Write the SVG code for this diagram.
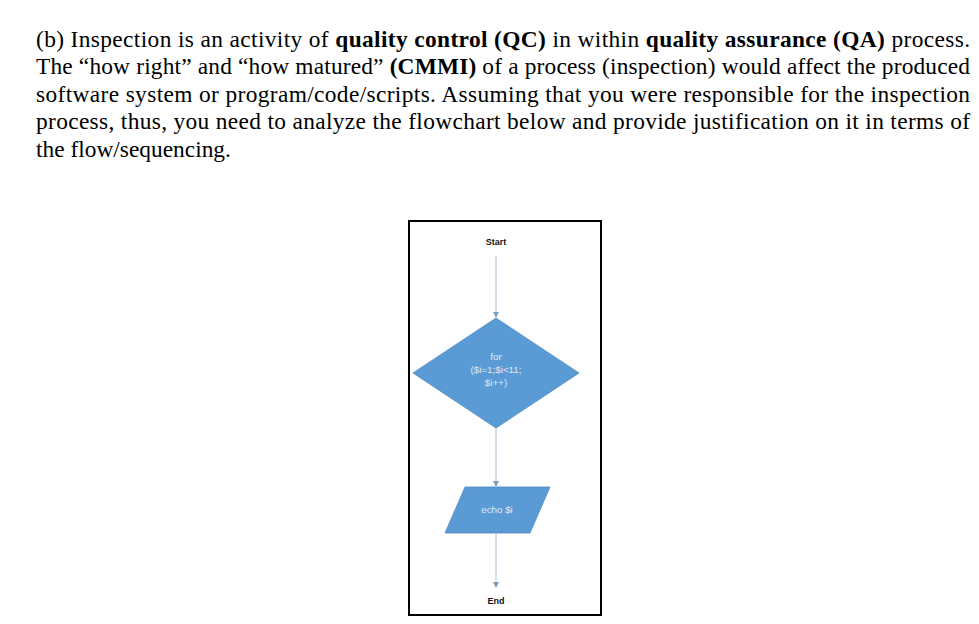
<svg xmlns="http://www.w3.org/2000/svg" width="979" height="624" viewBox="0 0 979 624">
<style>
.q{font-family:"Liberation Sans","Times New Roman",serif;font-size:23.4px;fill:#000}
.q{font-family:"Liberation Serif","Times New Roman",serif}
.b{font-weight:bold}
.lbl{font-family:"Liberation Sans",Arial,sans-serif;font-size:9px;font-weight:bold;fill:#111;text-anchor:middle}
.wl{font-family:"Liberation Sans",Arial,sans-serif;font-size:9.8px;fill:#dfeaf6;text-anchor:middle}
.shape{fill:#5b9bd5;stroke:#4f8cc4;stroke-width:0.8}
.conn{stroke:#a9bed3;stroke-width:1;fill:none}
</style>
<defs>
<marker id="ah" markerWidth="6" markerHeight="6" refX="5" refY="3" orient="auto" markerUnits="userSpaceOnUse">
<path d="M0,0 L6,3 L0,6 z" fill="#7f9fbf"/>
</marker>
</defs>
<rect width="979" height="624" fill="#fff"/>
<g id="question">
<text class="q" x="36" y="47" textLength="934" lengthAdjust="spacing">(b) Inspection is an activity of <tspan class="b">quality control (QC)</tspan> in within <tspan class="b">quality assurance (QA)</tspan> process.</text>
<text class="q" x="36" y="74.3" textLength="934" lengthAdjust="spacing">The “how right” and “how matured” <tspan class="b">(CMMI)</tspan> of a process (inspection) would affect the produced</text>
<text class="q" x="36" y="101.8" textLength="934" lengthAdjust="spacing">software system or program/code/scripts. Assuming that you were responsible for the inspection</text>
<text class="q" x="36" y="129.3" textLength="934" lengthAdjust="spacing">process, thus, you need to analyze the flowchart below and provide justification on it in terms of</text>
<text class="q" x="36" y="157">the flow/sequencing.</text>
</g>
<rect id="frame" x="409" y="221" width="192" height="394" fill="#fff" stroke="#000" stroke-width="2"/>
<g id="connectors">
<line class="conn" x1="496" y1="256" x2="496" y2="317" marker-end="url(#ah)"/>
<line class="conn" x1="496" y1="428" x2="496" y2="486" marker-end="url(#ah)"/>
<line class="conn" x1="496" y1="533" x2="496" y2="587" marker-end="url(#ah)"/>
</g>
<g id="start"><text class="lbl" x="496" y="245">Start</text></g>
<g id="loop">
<polygon class="shape" points="496,318 579,373 496,428 413,373"/>
<text class="wl" x="496" y="360">for</text>
<text class="wl" x="496" y="373">($i=1;$i&lt;11;</text>
<text class="wl" x="496" y="386">$i++)</text>
</g>
<g id="echo">
<polygon class="shape" points="465,487 550,487 530,533 445,533"/>
<text class="wl" x="497" y="513" font-size="10.5">echo $i</text>
</g>
<g id="end"><text class="lbl" x="496" y="604">End</text></g>
</svg>
